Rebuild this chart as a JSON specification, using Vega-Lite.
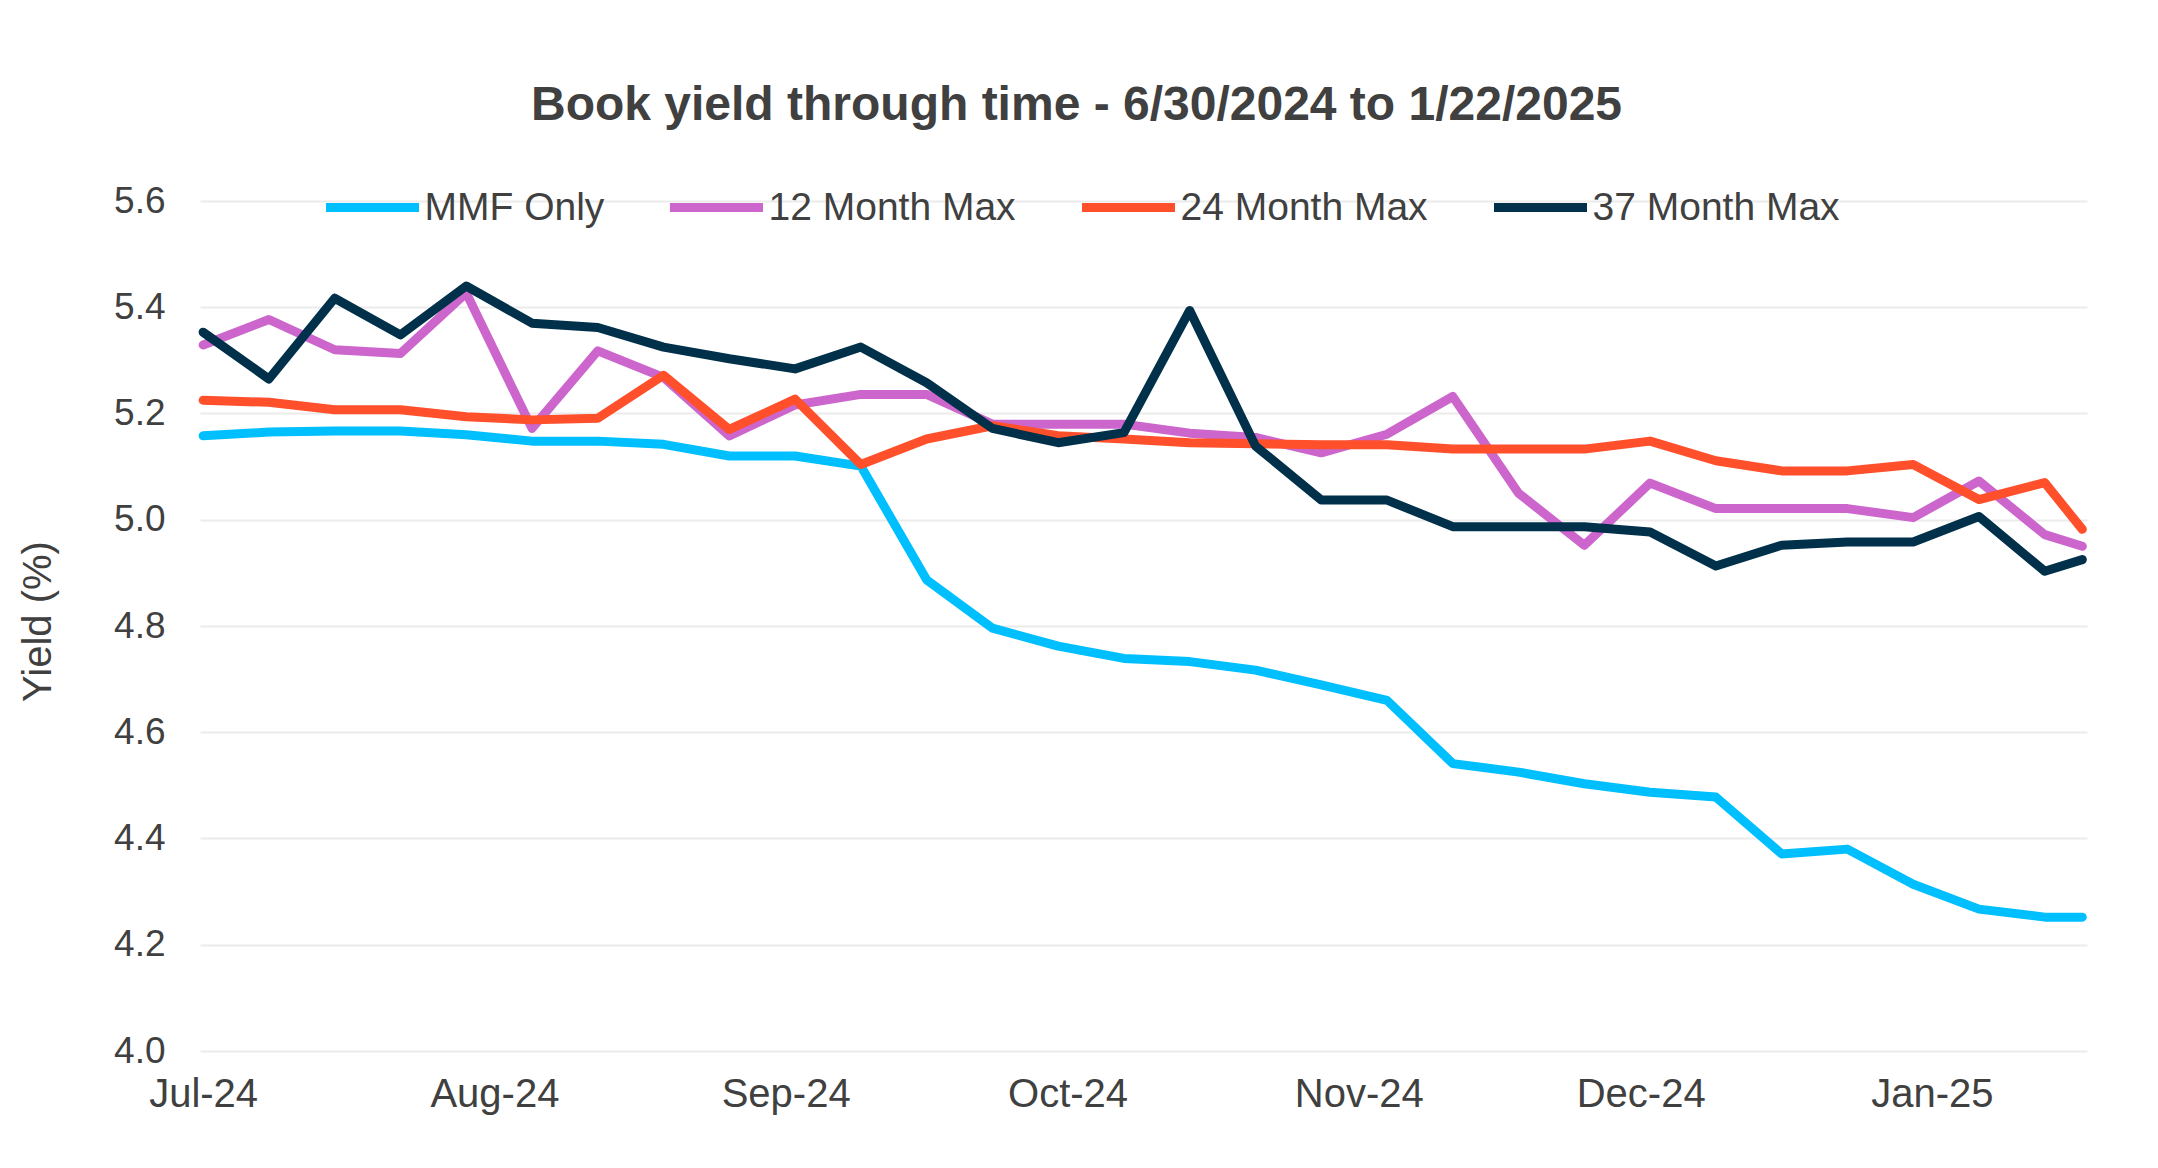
{
  "$schema": "https://vega.github.io/schema/vega-lite/v6.json",
  "autosize": {"type": "none"},
  "width": 1887,
  "height": 850,
  "padding": {"left": 200, "top": 201, "right": 71, "bottom": 117},
  "background": "white",
  "title": {
    "text": "Book yield through time - 6/30/2024 to 1/22/2025",
    "font": "Liberation Sans",
    "fontSize": 48,
    "fontWeight": "bold",
    "color": "#404040",
    "anchor": "middle",
    "baseline": "alphabetic",
    "dx": -67,
    "dy": 47,
    "offset": 36
  },
  "data": {
    "values": [
      {"series": "MMF Only", "date": "2024-07-01", "yield": 5.158},
      {"series": "MMF Only", "date": "2024-07-08", "yield": 5.165},
      {"series": "MMF Only", "date": "2024-07-15", "yield": 5.167},
      {"series": "MMF Only", "date": "2024-07-22", "yield": 5.167},
      {"series": "MMF Only", "date": "2024-07-29", "yield": 5.160},
      {"series": "MMF Only", "date": "2024-08-05", "yield": 5.148},
      {"series": "MMF Only", "date": "2024-08-12", "yield": 5.148},
      {"series": "MMF Only", "date": "2024-08-19", "yield": 5.142},
      {"series": "MMF Only", "date": "2024-08-26", "yield": 5.120},
      {"series": "MMF Only", "date": "2024-09-02", "yield": 5.120},
      {"series": "MMF Only", "date": "2024-09-09", "yield": 5.101},
      {"series": "MMF Only", "date": "2024-09-16", "yield": 4.887},
      {"series": "MMF Only", "date": "2024-09-23", "yield": 4.796},
      {"series": "MMF Only", "date": "2024-09-30", "yield": 4.762},
      {"series": "MMF Only", "date": "2024-10-07", "yield": 4.739},
      {"series": "MMF Only", "date": "2024-10-14", "yield": 4.733},
      {"series": "MMF Only", "date": "2024-10-21", "yield": 4.717},
      {"series": "MMF Only", "date": "2024-10-28", "yield": 4.689},
      {"series": "MMF Only", "date": "2024-11-04", "yield": 4.660},
      {"series": "MMF Only", "date": "2024-11-11", "yield": 4.541},
      {"series": "MMF Only", "date": "2024-11-18", "yield": 4.525},
      {"series": "MMF Only", "date": "2024-11-25", "yield": 4.503},
      {"series": "MMF Only", "date": "2024-12-02", "yield": 4.487},
      {"series": "MMF Only", "date": "2024-12-09", "yield": 4.478},
      {"series": "MMF Only", "date": "2024-12-16", "yield": 4.371},
      {"series": "MMF Only", "date": "2024-12-23", "yield": 4.380},
      {"series": "MMF Only", "date": "2024-12-30", "yield": 4.314},
      {"series": "MMF Only", "date": "2025-01-06", "yield": 4.267},
      {"series": "MMF Only", "date": "2025-01-13", "yield": 4.252},
      {"series": "MMF Only", "date": "2025-01-17", "yield": 4.252},
      {"series": "12 Month Max", "date": "2024-07-01", "yield": 5.329},
      {"series": "12 Month Max", "date": "2024-07-08", "yield": 5.377},
      {"series": "12 Month Max", "date": "2024-07-15", "yield": 5.320},
      {"series": "12 Month Max", "date": "2024-07-22", "yield": 5.313},
      {"series": "12 Month Max", "date": "2024-07-29", "yield": 5.427},
      {"series": "12 Month Max", "date": "2024-08-05", "yield": 5.172},
      {"series": "12 Month Max", "date": "2024-08-12", "yield": 5.318},
      {"series": "12 Month Max", "date": "2024-08-19", "yield": 5.268},
      {"series": "12 Month Max", "date": "2024-08-26", "yield": 5.158},
      {"series": "12 Month Max", "date": "2024-09-02", "yield": 5.216},
      {"series": "12 Month Max", "date": "2024-09-09", "yield": 5.236},
      {"series": "12 Month Max", "date": "2024-09-16", "yield": 5.236},
      {"series": "12 Month Max", "date": "2024-09-23", "yield": 5.180},
      {"series": "12 Month Max", "date": "2024-09-30", "yield": 5.180},
      {"series": "12 Month Max", "date": "2024-10-07", "yield": 5.180},
      {"series": "12 Month Max", "date": "2024-10-14", "yield": 5.163},
      {"series": "12 Month Max", "date": "2024-10-21", "yield": 5.155},
      {"series": "12 Month Max", "date": "2024-10-28", "yield": 5.126},
      {"series": "12 Month Max", "date": "2024-11-04", "yield": 5.161},
      {"series": "12 Month Max", "date": "2024-11-11", "yield": 5.232},
      {"series": "12 Month Max", "date": "2024-11-18", "yield": 5.050},
      {"series": "12 Month Max", "date": "2024-11-25", "yield": 4.952},
      {"series": "12 Month Max", "date": "2024-12-02", "yield": 5.069},
      {"series": "12 Month Max", "date": "2024-12-09", "yield": 5.021},
      {"series": "12 Month Max", "date": "2024-12-16", "yield": 5.021},
      {"series": "12 Month Max", "date": "2024-12-23", "yield": 5.021},
      {"series": "12 Month Max", "date": "2024-12-30", "yield": 5.004},
      {"series": "12 Month Max", "date": "2025-01-06", "yield": 5.073},
      {"series": "12 Month Max", "date": "2025-01-13", "yield": 4.972},
      {"series": "12 Month Max", "date": "2025-01-17", "yield": 4.950},
      {"series": "24 Month Max", "date": "2024-07-01", "yield": 5.225},
      {"series": "24 Month Max", "date": "2024-07-08", "yield": 5.221},
      {"series": "24 Month Max", "date": "2024-07-15", "yield": 5.207},
      {"series": "24 Month Max", "date": "2024-07-22", "yield": 5.207},
      {"series": "24 Month Max", "date": "2024-07-29", "yield": 5.194},
      {"series": "24 Month Max", "date": "2024-08-05", "yield": 5.188},
      {"series": "24 Month Max", "date": "2024-08-12", "yield": 5.191},
      {"series": "24 Month Max", "date": "2024-08-19", "yield": 5.272},
      {"series": "24 Month Max", "date": "2024-08-26", "yield": 5.170},
      {"series": "24 Month Max", "date": "2024-09-02", "yield": 5.227},
      {"series": "24 Month Max", "date": "2024-09-09", "yield": 5.104},
      {"series": "24 Month Max", "date": "2024-09-16", "yield": 5.152},
      {"series": "24 Month Max", "date": "2024-09-23", "yield": 5.177},
      {"series": "24 Month Max", "date": "2024-09-30", "yield": 5.158},
      {"series": "24 Month Max", "date": "2024-10-07", "yield": 5.152},
      {"series": "24 Month Max", "date": "2024-10-14", "yield": 5.145},
      {"series": "24 Month Max", "date": "2024-10-21", "yield": 5.143},
      {"series": "24 Month Max", "date": "2024-10-28", "yield": 5.141},
      {"series": "24 Month Max", "date": "2024-11-04", "yield": 5.141},
      {"series": "24 Month Max", "date": "2024-11-11", "yield": 5.133},
      {"series": "24 Month Max", "date": "2024-11-18", "yield": 5.133},
      {"series": "24 Month Max", "date": "2024-11-25", "yield": 5.133},
      {"series": "24 Month Max", "date": "2024-12-02", "yield": 5.148},
      {"series": "24 Month Max", "date": "2024-12-09", "yield": 5.111},
      {"series": "24 Month Max", "date": "2024-12-16", "yield": 5.092},
      {"series": "24 Month Max", "date": "2024-12-23", "yield": 5.092},
      {"series": "24 Month Max", "date": "2024-12-30", "yield": 5.104},
      {"series": "24 Month Max", "date": "2025-01-06", "yield": 5.038},
      {"series": "24 Month Max", "date": "2025-01-13", "yield": 5.070},
      {"series": "24 Month Max", "date": "2025-01-17", "yield": 4.982},
      {"series": "37 Month Max", "date": "2024-07-01", "yield": 5.353},
      {"series": "37 Month Max", "date": "2024-07-08", "yield": 5.265},
      {"series": "37 Month Max", "date": "2024-07-15", "yield": 5.417},
      {"series": "37 Month Max", "date": "2024-07-22", "yield": 5.348},
      {"series": "37 Month Max", "date": "2024-07-29", "yield": 5.440},
      {"series": "37 Month Max", "date": "2024-08-05", "yield": 5.370},
      {"series": "37 Month Max", "date": "2024-08-12", "yield": 5.362},
      {"series": "37 Month Max", "date": "2024-08-19", "yield": 5.325},
      {"series": "37 Month Max", "date": "2024-08-26", "yield": 5.303},
      {"series": "37 Month Max", "date": "2024-09-02", "yield": 5.284},
      {"series": "37 Month Max", "date": "2024-09-09", "yield": 5.325},
      {"series": "37 Month Max", "date": "2024-09-16", "yield": 5.258},
      {"series": "37 Month Max", "date": "2024-09-23", "yield": 5.172},
      {"series": "37 Month Max", "date": "2024-09-30", "yield": 5.145},
      {"series": "37 Month Max", "date": "2024-10-07", "yield": 5.164},
      {"series": "37 Month Max", "date": "2024-10-14", "yield": 5.394},
      {"series": "37 Month Max", "date": "2024-10-21", "yield": 5.139},
      {"series": "37 Month Max", "date": "2024-10-28", "yield": 5.037},
      {"series": "37 Month Max", "date": "2024-11-04", "yield": 5.037},
      {"series": "37 Month Max", "date": "2024-11-11", "yield": 4.987},
      {"series": "37 Month Max", "date": "2024-11-18", "yield": 4.987},
      {"series": "37 Month Max", "date": "2024-11-25", "yield": 4.987},
      {"series": "37 Month Max", "date": "2024-12-02", "yield": 4.977},
      {"series": "37 Month Max", "date": "2024-12-09", "yield": 4.913},
      {"series": "37 Month Max", "date": "2024-12-16", "yield": 4.952},
      {"series": "37 Month Max", "date": "2024-12-23", "yield": 4.958},
      {"series": "37 Month Max", "date": "2024-12-30", "yield": 4.958},
      {"series": "37 Month Max", "date": "2025-01-06", "yield": 5.006},
      {"series": "37 Month Max", "date": "2025-01-13", "yield": 4.903},
      {"series": "37 Month Max", "date": "2025-01-17", "yield": 4.925}
    ]
  },
  "mark": {"type": "line", "strokeWidth": 9, "strokeCap": "round", "strokeJoin": "round"},
  "encoding": {
    "x": {
      "field": "date",
      "type": "temporal",
      "scale": {
        "type": "utc",
        "domain": [
          {"year": 2024, "month": 6, "date": 30, "hours": 16, "utc": true},
          {"year": 2025, "month": 1, "date": 17, "hours": 12, "utc": true}
        ]
      },
      "axis": {
        "title": null,
        "grid": false,
        "domain": false,
        "ticks": false,
        "tickSize": 0,
        "labelPadding": 23,
        "labelFontSize": 40,
        "labelFont": "Liberation Sans",
        "labelColor": "#404040",
        "labelExpr": "utcFormat(datum.value, '%b-%y')",
        "labelOverlap": false,
        "labelLimit": 0,
        "values": [
          {"year": 2024, "month": 7, "date": 1, "utc": true},
          {"year": 2024, "month": 8, "date": 1, "utc": true},
          {"year": 2024, "month": 9, "date": 1, "utc": true},
          {"year": 2024, "month": 10, "date": 1, "utc": true},
          {"year": 2024, "month": 11, "date": 1, "utc": true},
          {"year": 2024, "month": 12, "date": 1, "utc": true},
          {"year": 2025, "month": 1, "date": 1, "utc": true}
        ]
      }
    },
    "y": {
      "field": "yield",
      "type": "quantitative",
      "scale": {"domain": [4.0, 5.6], "nice": false, "zero": false},
      "axis": {
        "title": "Yield (%)",
        "titleFont": "Liberation Sans",
        "titleFontSize": 40,
        "titleFontWeight": "normal",
        "titleColor": "#404040",
        "titleX": -162,
        "titleY": 420,
        "titleAngle": -90,
        "titleAlign": "center",
        "titleBaseline": "middle",
        "values": [4.0, 4.2, 4.4, 4.6, 4.8, 5.0, 5.2, 5.4, 5.6],
        "format": ".1f",
        "grid": true,
        "gridColor": "#EBEBEB",
        "gridWidth": 2,
        "domain": false,
        "ticks": false,
        "tickSize": 0,
        "labelPadding": 35,
        "labelFontSize": 37,
        "labelFont": "Liberation Sans",
        "labelColor": "#404040"
      }
    },
    "color": {
      "field": "series",
      "type": "nominal",
      "scale": {
        "domain": ["MMF Only", "12 Month Max", "24 Month Max", "37 Month Max"],
        "range": ["#00BFFF", "#CC66CC", "#FF4F2B", "#00304A"]
      },
      "legend": {
        "title": null,
        "orient": "none",
        "direction": "horizontal",
        "legendX": 121.5,
        "legendY": -44.5,
        "padding": 0,
        "symbolType": "stroke",
        "symbolSize": 8649,
        "symbolStrokeWidth": 9,
        "labelOffset": 1,
        "columnPadding": 47,
        "labelFontSize": 39,
        "labelFont": "Liberation Sans",
        "labelColor": "#404040",
        "labelLimit": 0
      }
    }
  },
  "config": {
    "view": {"stroke": null}
  }
}
